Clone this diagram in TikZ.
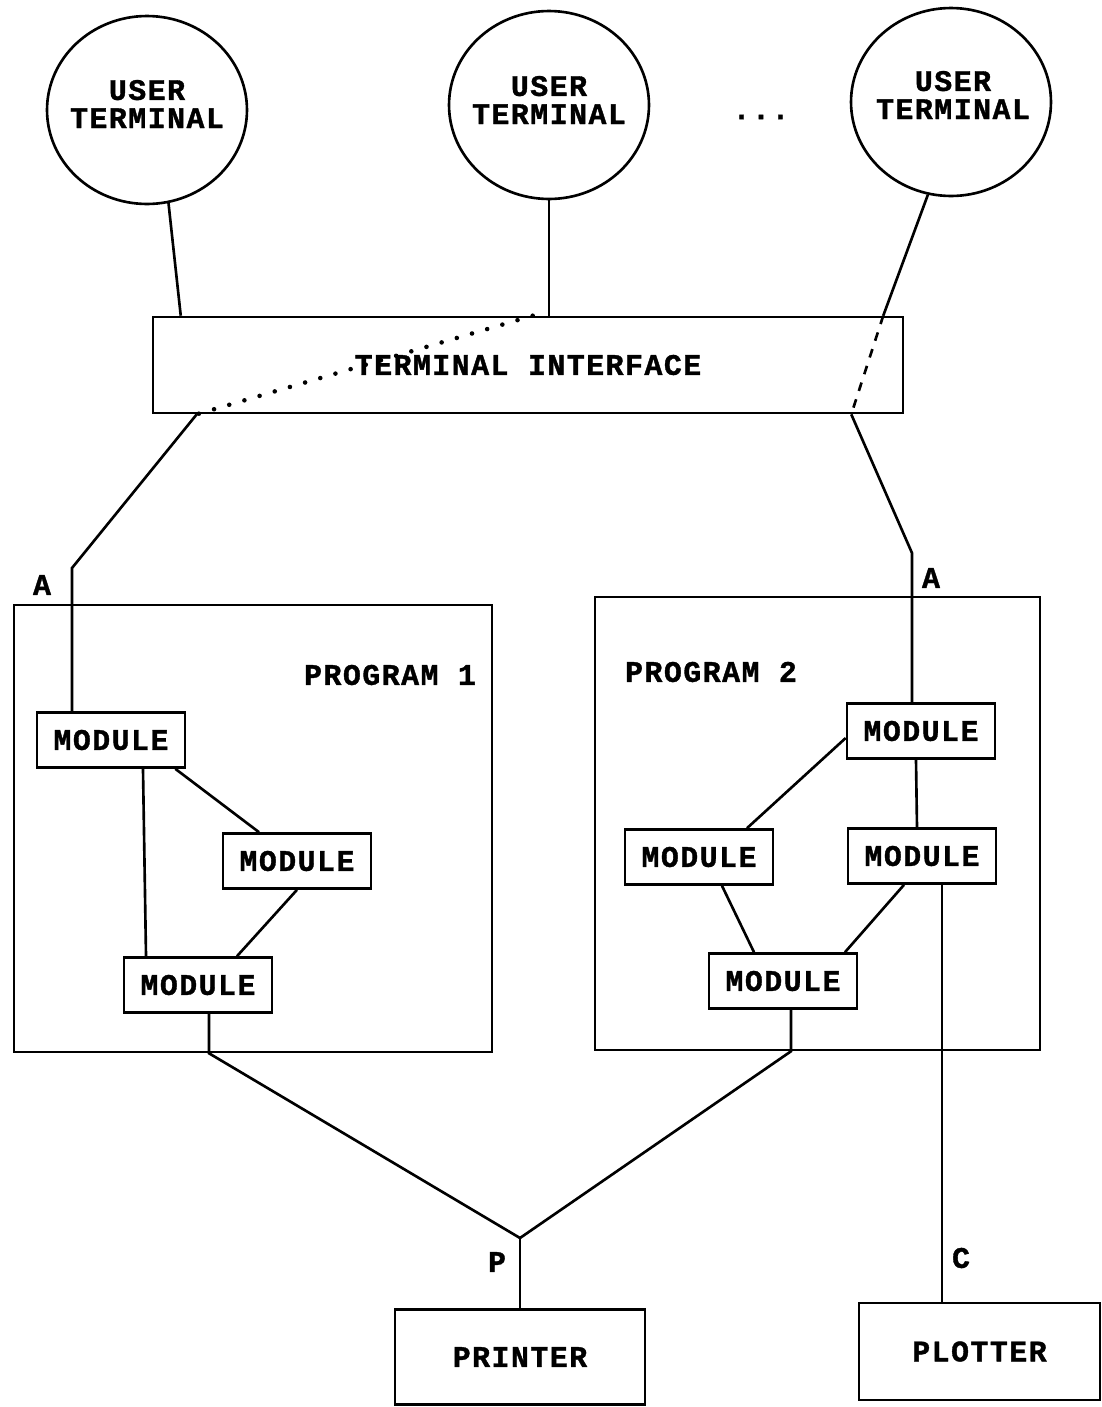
\documentclass[tikz,border=0pt]{standalone}
\usepackage{fontspec}
\newfontfamily\lblfont[LetterSpace=5,FakeBold=1.2]{Liberation Mono}
\usetikzlibrary{shapes.geometric}

\begin{document}
\begin{tikzpicture}
[x=0.02cm, y=-0.02cm, line width=1.5pt,
term/.style={ellipse, draw, minimum width=4cm, minimum height=3.76cm, inner sep=0pt},
plain/.style={draw=none, fill=none, font=\lblfont\bfseries\fontsize{17}{16}\selectfont, align=center, inner sep=0pt},
box/.style={rectangle, draw, inner sep=0pt, font=\lblfont\bfseries\fontsize{17}{16}\selectfont},
modbox/.style={box, minimum width=2.96cm, minimum height=1.1cm},
dotline/.style={line width=2.6pt, line cap=round, dash pattern=on 0pt off 9pt},
dashline/.style={dash pattern=on 5pt off 5pt}
]
\useasboundingbox (0,0) rectangle (1102,1407);

\node[term] (t1) at (147,110) {};
\node[plain] (t1txt) at (147,104) {USER\\TERMINAL};
\node[term] (t2) at (549,105) {};
\node[plain] (t2txt) at (549,100) {USER\\TERMINAL};
\node[term] (t3) at (951,102) {};
\node[plain] (t3txt) at (953,95) {USER\\TERMINAL};
\node[plain] (more) at (761,117) {...};

\node[box, minimum width=15cm, minimum height=1.92cm] (ti) at (528,365) {TERMINAL INTERFACE};

\node[box, minimum width=9.56cm, minimum height=8.94cm] (prog1) at (253,828.5) {};
\node[plain] (prog1txt) at (390,675) {PROGRAM 1};
\node[box, minimum width=8.9cm, minimum height=9.06cm] (prog2) at (817.5,823.5) {};
\node[plain] (prog2txt) at (711,672) {PROGRAM 2};

\node[modbox] (m11) at (111,740) {MODULE};
\node[modbox] (m12) at (297,861) {MODULE};
\node[modbox] (m13) at (198,985) {MODULE};
\node[modbox] (m21) at (921,731) {MODULE};
\node[modbox] (m22) at (699,857) {MODULE};
\node[modbox] (m23) at (922,856) {MODULE};
\node[modbox] (m24) at (783,981) {MODULE};

\node[box, minimum width=5cm, minimum height=1.9cm] (printer) at (520,1357) {PRINTER};
\node[box, minimum width=4.82cm, minimum height=1.94cm] (plotter) at (979.5,1351.5) {PLOTTER};

\node[plain] (lblA1) at (42,585) {A};
\node[plain] (lblA2) at (931,578) {A};
\node[plain] (lblP) at (497,1262) {P};
\node[plain] (lblC) at (961,1258) {C};

\coordinate (bendL) at (72,568);
\coordinate (bendR) at (912,553);
\coordinate (junc) at (520,1238);

\draw (t1.-77) -- ([xshift=0.58cm]ti.north west);
\draw (t2.south) -- (t2.south |- ti.north);
\draw (t3.-104) -- ([xshift=-0.42cm]ti.north east);
\draw[dotline] ([xshift=7.62cm]ti.north west) -- ([xshift=0.9cm]ti.south west);
\draw[dashline] ([xshift=-0.42cm]ti.north east) -- ([xshift=-1.06cm]ti.south east);
\draw ([xshift=0.9cm]ti.south west) -- (bendL) -- (bendL |- m11.north);
\draw ([xshift=-1.06cm]ti.south east) -- (bendR) -- (bendR |- m21.north);

\draw ([xshift=0.64cm]m11.south) -- ([xshift=-1.04cm]m13.north);
\draw ([xshift=-0.22cm]m11.south east) -- ([xshift=-0.76cm]m12.north);
\draw (m12.south) -- ([xshift=0.78cm]m13.north);
\coordinate (out1) at ([xshift=0.22cm]m13.south);
\draw (out1) -- (out1 |- prog1.south) -- (junc);

\draw ([yshift=-0.14cm]m21.west) -- ([xshift=0.96cm]m22.north);
\draw ([xshift=-0.1cm]m21.south) -- ([xshift=-0.1cm]m23.north);
\draw ([xshift=0.46cm]m22.south) -- ([xshift=-0.58cm]m24.north);
\draw ([xshift=-0.36cm]m23.south) -- ([xshift=1.24cm]m24.north);
\coordinate (out2) at ([xshift=0.16cm]m24.south);
\draw (out2) -- (out2 |- prog2.south) -- (junc);
\coordinate (out3) at ([xshift=0.4cm]m23.south);
\draw (out3) -- (out3 |- plotter.north);
\draw (junc) -- (printer.north);
\end{tikzpicture}
\end{document}
